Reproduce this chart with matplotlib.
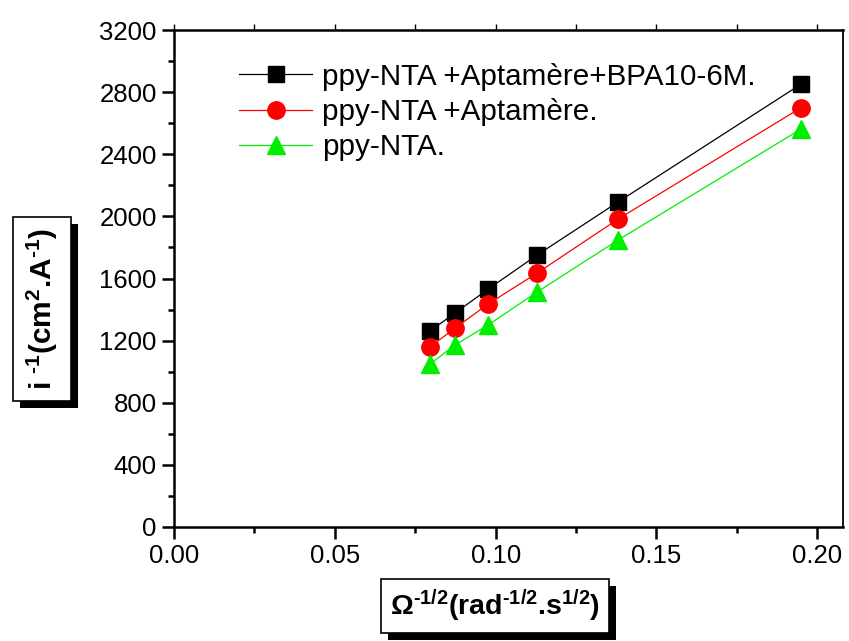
import matplotlib
matplotlib.use("Agg")
import matplotlib.pyplot as plt
from matplotlib import patheffects
from matplotlib.ticker import MultipleLocator, FormatStrFormatter

plt.rcParams['font.family'] = ['Liberation Sans', 'DejaVu Sans']
plt.rcParams['mathtext.fontset'] = 'custom'
plt.rcParams['mathtext.rm'] = 'Liberation Sans'
plt.rcParams['mathtext.bf'] = 'Liberation Sans:bold'
plt.rcParams['mathtext.it'] = 'Liberation Sans:italic'
plt.rcParams['mathtext.default'] = 'bf'

x = [0.0796, 0.0874, 0.0977, 0.1129, 0.1381, 0.1950]
y_bpa = [1262, 1378, 1532, 1751, 2093, 2852]
y_apt = [1159, 1281, 1436, 1635, 1983, 2700]
y_nta = [1050, 1172, 1301, 1513, 1848, 2563]
labels = ["ppy-NTA +Aptamère+BPA10-6M.", "ppy-NTA +Aptamère.", "ppy-NTA."]

fig = plt.figure(figsize=(8.49, 6.41), dpi=100)
ax = fig.add_axes([174/849, 1-527/641, (843-174)/849, (527-30)/641])

ax.plot(x, y_bpa, '-s', color='black', lw=0.9, ms=11, mfc='black', mec='black', label=labels[0])
ax.plot(x, y_apt, '-o', color='red', lw=0.9, ms=12.5, mfc='red', mec='red', label=labels[1])
ax.plot(x, y_nta, '-^', color='#00ee00', lw=0.9, ms=13, mfc='#00ee00', mec='#00ee00', label=labels[2])

ax.set_xlim(0, 0.208)
ax.set_ylim(0, 3200)
ax.xaxis.set_major_locator(MultipleLocator(0.05))
ax.xaxis.set_minor_locator(MultipleLocator(0.025))
ax.yaxis.set_major_locator(MultipleLocator(400))
ax.yaxis.set_minor_locator(MultipleLocator(200))
ax.xaxis.set_major_formatter(FormatStrFormatter('%.2f'))

for s in ax.spines.values():
    s.set_linewidth(1.8)
ax.spines['right'].set_linewidth(1.3)
ax.tick_params(which='major', direction='out', length=8.5, width=1.8, labelsize=18.5, pad=4)
ax.tick_params(which='minor', direction='out', length=4.5, width=1.8)
ax.tick_params(axis='x', which='both', top=True)
ax.tick_params(axis='x', which='major', top=True, labeltop=False)
for t in ax.xaxis.get_major_ticks() + ax.xaxis.get_minor_ticks():
    t.tick2line.set_color('#888888')
    t.tick2line.set_markeredgewidth(1.0)
    t.tick2line.set_markersize(4)

leg = ax.legend(loc='upper left', bbox_to_anchor=(0.08, 0.958), frameon=False,
                fontsize=21.3, handlelength=2.45, handletextpad=0.35, labelspacing=0.25,
                borderaxespad=0)

shadow = [patheffects.withSimplePatchShadow(offset=(5, -5), shadow_rgbFace='black', alpha=1.0)]
h = '\u2010'
xl = fig.text(495/849, 1-606/641, r'$\Omega^{' + h + r'1/2}$' + '(rad' + r'$^{' + h + r'1/2}$' + '.s' + r'$^{1/2}$' + ')',
              ha='center', va='center', fontsize=20.5, fontweight='bold',
              bbox=dict(boxstyle='square,pad=0.3', fc='white', ec='black', lw=1.2))
xl.get_bbox_patch().set_path_effects(shadow)
yl = fig.text(42/849, 1-309/641, 'i ' + r'$^{' + h + r'1}$' + '(cm' + r'$^{2}$' + '.A' + r'$^{' + h + r'1}$' + ')',
              ha='center', va='center', rotation=90, fontsize=21.5, fontweight='bold',
              bbox=dict(boxstyle='square,pad=0.38', fc='white', ec='black', lw=1.2))
yl.get_bbox_patch().set_path_effects(shadow)

fig.savefig('out.png', dpi=100)
